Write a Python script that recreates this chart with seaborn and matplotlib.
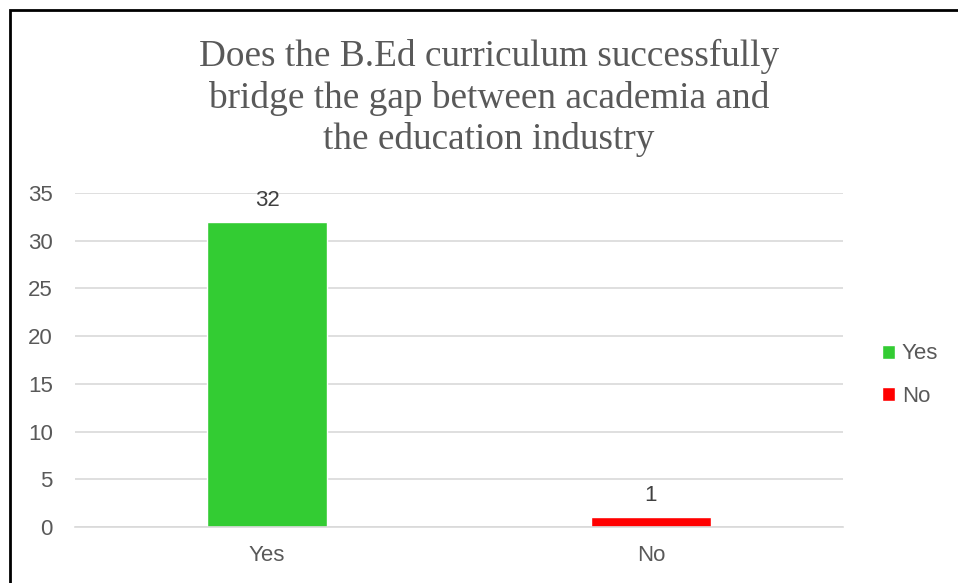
import matplotlib
matplotlib.use("Agg")
import matplotlib.pyplot as plt
import seaborn as sns
import pandas as pd
from matplotlib.patches import Rectangle

categories = ["Yes", "No"]
values = [32, 1]
colors = ["#33CC33", "#FF0000"]
yticks = [0, 5, 10, 15, 20, 25, 30, 35]
title = "Does the B.Ed curriculum successfully\nbridge the gap between academia and\nthe education industry"

sns.set_theme(style="white")
plt.rcParams['font.family'] = ['Liberation Sans', 'DejaVu Sans']

df = pd.DataFrame({"cat": categories, "val": values})

fig = plt.figure(figsize=(9.58, 5.83), dpi=100)
ax = fig.add_axes([75/958, 1-527/583, (843-75)/958, (527-193)/583])

sns.barplot(data=df, x="cat", y="val", hue="cat", palette=colors,
            width=0.315, dodge=False, ax=ax, legend=True, saturation=1)

ax.set_ylim(0, 35)
ax.set_yticks(yticks)
ax.set_yticklabels([str(t) for t in yticks])
ax.yaxis.grid(True, color="#D9D9D9", linewidth=1.2)
ax.set_axisbelow(True)
for s in ["left", "right", "top"]:
    ax.spines[s].set_visible(False)
ax.spines["bottom"].set_color("#D9D9D9")
ax.spines["bottom"].set_linewidth(1.2)
ax.set_xlabel("")
ax.set_ylabel("")
ax.tick_params(axis="both", length=0, labelsize=16, colors="#595959")
ax.tick_params(axis="x", pad=13)
ax.tick_params(axis="y", pad=16)

for c in ax.containers:
    ax.bar_label(c, labels=[f"{int(v)}" if v else "" for v in c.datavalues],
                 padding=8, fontsize=16, color="#404040")

leg = ax.legend(loc="center left", bbox_to_anchor=(880/768 - 75/768 - 0.0235, 0.455),
                frameon=False, fontsize=16, handlelength=0.6, handleheight=0.6,
                handletextpad=0.3, labelspacing=0.95)
for t in leg.get_texts():
    t.set_color("#595959")

fig.text(489/958, 1-98/583, title, ha="center", va="center",
         fontsize=26.8, color="#595959", family=["Liberation Serif", "DejaVu Serif"],
         linespacing=1.25)

fig.patches.append(Rectangle((10/958, -0.1), 1.2, 1-10/583+0.1, transform=fig.transFigure,
                             fill=False, edgecolor="black", linewidth=2))

fig.savefig("out.png", dpi=100)
